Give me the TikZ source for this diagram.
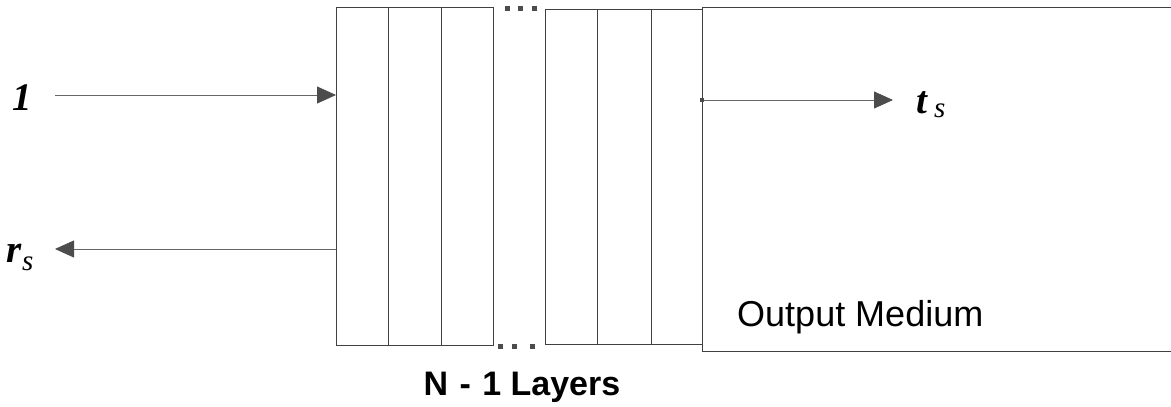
\documentclass[tikz,border=0pt]{standalone}
\usepackage{fontspec}
\setmainfont{Liberation Sans}
\newfontfamily\lserif{Liberation Serif}
\usetikzlibrary{arrows.meta}
\tikzset{
  frame/.style={draw=black!75, line width=0.9pt, inner sep=0pt, anchor=north west},
  wire/.style={draw=black!60, line width=0.8pt},
  arr/.style={wire, -{Triangle[length=19pt, width=17pt, fill=black!70, color=black!70]}},
  dot/.style={fill=black!70, inner sep=0pt, minimum size=5pt},
  sym/.style={font=\fontsize{39}{39}\selectfont\lserif\bfseries\itshape, anchor=base west, inner sep=0pt},
}
\newcommand{\subs}[1]{{\fontsize{29}{29}\selectfont\lserif\mdseries\itshape #1}}
\begin{document}
\begin{tikzpicture}[x=1pt, y=-1pt]
\useasboundingbox (0,0) rectangle (1171,407);
% blocks
\node[frame, minimum width=470, minimum height=344] (medium) at (702,7) {};
\node[frame, minimum width=157, minimum height=338] (left) at (336,7) {};
\node[frame, minimum width=157, minimum height=335] (right) at (545,9) {};
\fill[white] (1171.5,0) rectangle (1175,407);
\draw[draw=black!75, line width=0.9pt] (388,7) -- (388,345) (441,7) -- (441,345)
  (597,9) -- (597,344) (651,9) -- (651,344);
% dots
\node[dot] (dt1) at (507,8) {};
\node[dot] (dt2) at (520,8) {};
\node[dot] (dt3) at (534,8) {};
\node[dot] (db1) at (500,346) {};
\node[dot] (db2) at (514,346) {};
\node[dot] (db3) at (532,346) {};
% labels
\node[sym] (one) at (12,110) {1};
\node[sym] (rs) at (6,262) {r};
\node[anchor=base west, inner sep=0pt] (rsub) at (22,270) {\subs{s}};
\node[sym] (ts) at (916,113) {t};
\node[anchor=base west, inner sep=0pt] (tsub) at (934,117) {\subs{s}};
\node[font=\fontsize{36}{36}\selectfont, anchor=west, inner sep=0pt] (om) at (737,317) {Output Medium};
\node[font=\fontsize{34}{34}\selectfont\bfseries] (nl) at (522,387) {N\,\,-\,\,1 Layers};
% connectors
\coordinate (inStart) at (55,95);
\coordinate (rEnd) at (55,249);
\coordinate (tEnd) at (893,100);
\draw[arr] (inStart) -- (left.west |- inStart);
\draw[arr] (left.west |- rEnd) -- (rEnd);
\draw[arr] (medium.west |- tEnd) -- (tEnd);
\node[dot, minimum size=4.5pt] (tdot) at (medium.west |- tEnd) {};
\end{tikzpicture}
\end{document}
